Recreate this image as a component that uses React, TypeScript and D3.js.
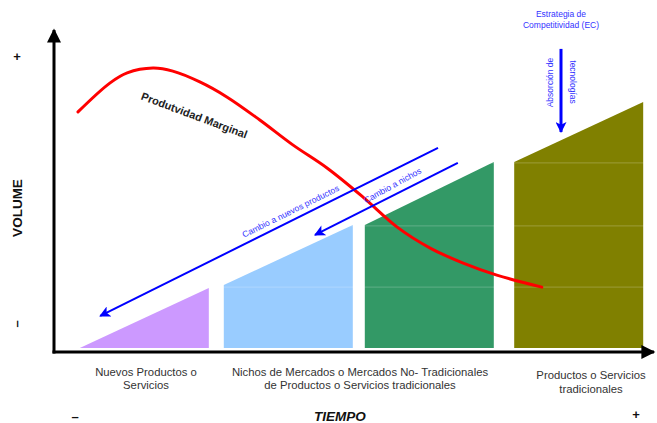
import React from "react";
import * as d3 from "d3";

// ---- data (time units 0..100, volume units 0..100) ----
const segmentNames = ["Nuevos", "Nichos", "No-Tradicionales", "Tradicionales"];
const segmentStart = [4.3, 28.3, 51.8, 76.7];
const segmentEnd = [25.8, 49.8, 73.3, 98.2];
const segmentLow = [0, 21, 41, 62];
const segmentHigh = [20, 41, 62, 82];
const segmentColors = ["#cc99ff", "#99ccff", "#339966", "#808000"];
const gridLevels = [20.3, 40.7, 61.7];

const curveTime = [4, 9.3, 12.2, 16.5, 19.8, 24.3, 28.8, 34.3, 39.8, 45.5, 51.5, 57.2, 62.7, 68.2, 73.8, 81.3];
const curveVolume = [78.7, 88.3, 91.7, 93.3, 92.3, 88.7, 83.7, 76, 67.7, 60, 50.3, 40.3, 33.3, 28.3, 24.3, 20.3];

const arrowFrom = [
  [64, 66.7],
  [67.3, 61.7],
  [84.5, 99.7],
];
const arrowTo = [
  [7.7, 10.7],
  [43.5, 37.7],
  [84.5, 72],
];

const categoryLines = [
  ["Nuevos Productos o", "Servicios"],
  ["Nichos de Mercados o Mercados No- Tradicionales", "de Productos o Servicios tradicionales"],
  ["Productos o Servicios", "tradicionales"],
];

const W = 657;
const H = 423;
const FONT = "'Liberation Sans', Arial, sans-serif";

export default function App() {
  const x = d3.scaleLinear().domain([0, 100]).range([54, 654]);
  const y = d3.scaleLinear().domain([0, 100]).range([348, 48]);

  const area = d3
    .area<[number, number]>()
    .x((d) => x(d[0]))
    .y0(y(0))
    .y1((d) => y(d[1]));

  const curvePts: [number, number][] = curveTime.map((t, i) => [t, curveVolume[i]]);
  const line = d3
    .line<[number, number]>()
    .x((d) => x(d[0]))
    .y((d) => y(d[1]))
    .curve(d3.curveCatmullRom.alpha(0.5));

  const axisY = 352;
  const axisX = 54;

  const a1 = [x(arrowFrom[0][0]), y(arrowFrom[0][1]), x(arrowTo[0][0]), y(arrowTo[0][1])];
  const a2 = [x(arrowFrom[1][0]), y(arrowFrom[1][1]), x(arrowTo[1][0]), y(arrowTo[1][1])];
  const ang1 = (Math.atan2(a1[1] - a1[3], a1[0] - a1[2]) * 180) / Math.PI;
  const ang2 = (Math.atan2(a2[1] - a2[3], a2[0] - a2[2]) * 180) / Math.PI;

  const catX = [146, 360, 591];
  const catY = [[376, 389], [376, 389], [379, 393]];

  return (
    <svg
      width={W}
      height={H}
      style={{ position: "absolute", left: 0, top: 0, background: "#fff" }}
      fontFamily={FONT}
    >
      <defs>
        <marker id="blueHead" viewBox="0 0 10 10" refX="9" refY="5" markerWidth="16" markerHeight="11" markerUnits="userSpaceOnUse" orient="auto">
          <path d="M0,0 L10,5 L0,10 L2.5,5 Z" fill="#0000ff" />
        </marker>
        <marker id="blackHead" viewBox="0 0 10 10" refX="9" refY="5" markerWidth="16" markerHeight="14" markerUnits="userSpaceOnUse" orient="auto">
          <path d="M0,0 L10,5 L0,10 Z" fill="#000" />
        </marker>
      </defs>

      {/* segments */}
      {segmentNames.map((n, i) => (
        <path
          key={n}
          d={area([
            [segmentStart[i], segmentLow[i]],
            [segmentEnd[i], segmentHigh[i]],
          ]) as string}
          fill={segmentColors[i]}
        />
      ))}
      {/* faint grid lines over bars */}
      {gridLevels.map((g) => (
        <line key={g} x1={x(0)} x2={x(100)} y1={y(g)} y2={y(g)} stroke="#fff" strokeOpacity={0.22} strokeWidth={1} />
      ))}

      {/* axes */}
      <line x1={axisX} y1={axisY + 1.5} x2={axisX} y2={30} stroke="#000" strokeWidth={3} markerEnd="url(#blackHead)" />
      <line x1={axisX - 1.5} y1={axisY} x2={654} y2={axisY} stroke="#000" strokeWidth={3} markerEnd="url(#blackHead)" />

      {/* red curve */}
      <path d={line(curvePts) as string} fill="none" stroke="#ff0000" strokeWidth={3} strokeLinecap="round" />
      <text
        transform={`translate(193,119) rotate(20.5)`}
        textAnchor="middle"
        fontSize={11}
        fontWeight="bold"
        fill="#222"
      >
        Produtvidad Marginal
      </text>

      {/* blue arrows */}
      <line x1={a1[0]} y1={a1[1]} x2={a1[2]} y2={a1[3]} stroke="#0000ff" strokeWidth={2} markerEnd="url(#blueHead)" />
      <line x1={a2[0]} y1={a2[1]} x2={a2[2]} y2={a2[3]} stroke="#0000ff" strokeWidth={2} markerEnd="url(#blueHead)" />
      <line
        x1={x(arrowFrom[2][0])}
        y1={y(arrowFrom[2][1])}
        x2={x(arrowTo[2][0])}
        y2={y(arrowTo[2][1])}
        stroke="#0000ff"
        strokeWidth={3}
        markerEnd="url(#blueHead)"
      />
      <text transform={`translate(292,214) rotate(${ang1})`} textAnchor="middle" fontSize={8.6} fill="#3333ff">
        Cambio a nuevos productos
      </text>
      <text transform={`translate(394,188) rotate(${ang2 - 2})`} textAnchor="middle" fontSize={8.6} fill="#3333ff">
        Cambio a nichos
      </text>

      {/* EC annotation */}
      <text x={561} y={17} textAnchor="middle" fontSize={8.5} fill="#3333ff">
        Estrategia de
      </text>
      <text x={561} y={28} textAnchor="middle" fontSize={8.5} fill="#3333ff">
        Competitividad (EC)
      </text>
      <text transform="translate(553,82.5) rotate(-90)" textAnchor="middle" fontSize={8.5} fill="#3333ff">
        Absorción de
      </text>
      <text transform="translate(570,82) rotate(90)" textAnchor="middle" fontSize={8.5} fill="#3333ff">
        tecnologías
      </text>

      {/* category labels */}
      {categoryLines.map((ls, i) =>
        ls.map((l, j) => (
          <text key={`${i}-${j}`} x={catX[i]} y={catY[i][j]} textAnchor="middle" fontSize={11.3} fill="#333">
            {l}
          </text>
        ))
      )}

      {/* axis titles */}
      <text transform="translate(22,208) rotate(-90)" textAnchor="middle" fontSize={13.5} fontWeight="bold" fill="#111">
        VOLUME
      </text>
      <text x={17} y={61} textAnchor="middle" fontSize={13} fontWeight="bold" fill="#111">
        +
      </text>
      <text transform="translate(21,324) rotate(-90)" textAnchor="middle" fontSize={13} fontWeight="bold" fill="#111">
        –
      </text>
      <text x={75} y={421} textAnchor="middle" fontSize={13} fontWeight="bold" fill="#111">
        –
      </text>
      <text x={340} y={421} textAnchor="middle" fontSize={13.5} fontWeight="bold" fontStyle="italic" fill="#111">
        TIEMPO
      </text>
      <text x={636} y={419} textAnchor="middle" fontSize={13} fontWeight="bold" fill="#111">
        +
      </text>
    </svg>
  );
}
